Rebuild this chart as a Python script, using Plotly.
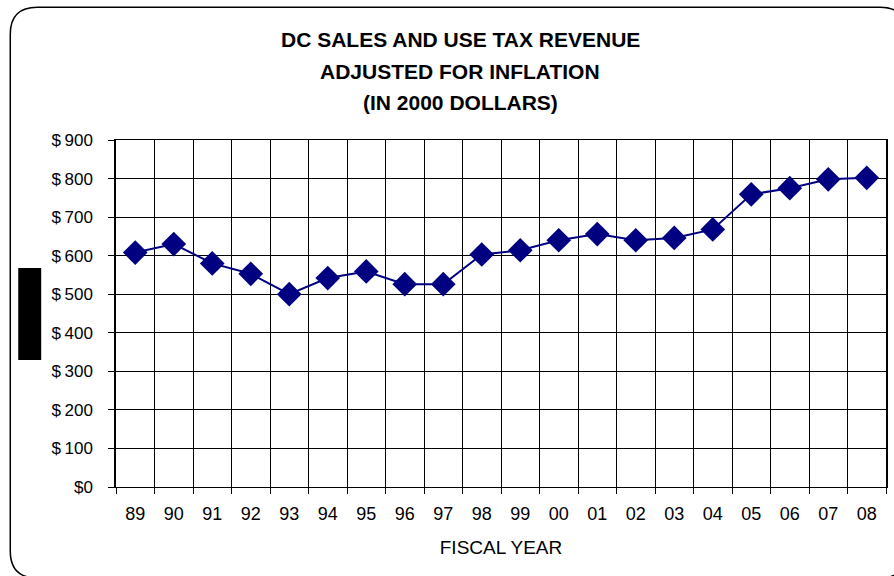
import plotly.graph_objects as go

# ---- data ----
years = ["89", "90", "91", "92", "93", "94", "95", "96", "97", "98",
         "99", "00", "01", "02", "03", "04", "05", "06", "07", "08"]
revenue = [608, 630, 580, 553, 500, 542, 559, 526, 526, 603,
           614, 640, 656, 640, 646, 668, 759, 775, 798, 802]
y_ticks = [0, 100, 200, 300, 400, 500, 600, 700, 800, 900]
y_tick_labels = ["$\u2009" + str(v) if v else "$0" for v in y_ticks]
title_lines = ["DC SALES AND USE TAX REVENUE",
               "ADJUSTED FOR INFLATION",
               "(IN 2000 DOLLARS)"]
x_title = "FISCAL YEAR"

# ---- layout geometry (pixels) ----
W, H = 894, 576
ML, MR, MT, MB = 116, 6, 140, 89
PW, PH = W - ML - MR, H - MT - MB


def px(x):
    return (x - ML) / PW


def py(y):
    return (MT + PH - y) / PH


FONT = "Liberation Sans, Arial, sans-serif"
NAVY = "#000080"

fig = go.Figure()
fig.add_trace(go.Scatter(
    x=years, y=revenue, mode="lines+markers",
    line=dict(color=NAVY, width=2),
    marker=dict(symbol="diamond", size=19, color=NAVY),
    showlegend=False, hoverinfo="x+y",
))

# rounded outer border
x0, x1, y0, y1, r = 10, 909, 7.3, 578, 27
path = (
    f"M {px(x0 + r)},{py(y0)} L {px(x1 - r)},{py(y0)} "
    f"Q {px(x1)},{py(y0)} {px(x1)},{py(y0 + r)} "
    f"L {px(x1)},{py(y1 - r)} Q {px(x1)},{py(y1)} {px(x1 - r)},{py(y1)} "
    f"L {px(x0 + r)},{py(y1)} Q {px(x0)},{py(y1)} {px(x0)},{py(y1 - r)} "
    f"L {px(x0)},{py(y0 + r)} Q {px(x0)},{py(y0)} {px(x0 + r)},{py(y0)} Z"
)
shapes = [
    dict(type="path", xref="paper", yref="paper", path=path,
         line=dict(color="black", width=1.5), layer="below"),
    dict(type="rect", xref="paper", yref="paper",
         x0=px(18), x1=px(41), y0=py(360), y1=py(268),
         fillcolor="black", line=dict(width=0)),
]

annotations = []
for i, (txt, yc) in enumerate(zip(title_lines, [39, 71, 103])):
    annotations.append(dict(
        text=f"<b>{txt}</b>", xref="paper", yref="paper",
        x=px(461), y=py(yc), xanchor="center", yanchor="middle",
        showarrow=False, font=dict(family=FONT, size=21, color="black"),
    ))

fig.update_layout(
    width=W, height=H,
    margin=dict(l=ML, r=MR, t=MT, b=MB),
    paper_bgcolor="white", plot_bgcolor="white",
    font=dict(family=FONT, color="black"),
    shapes=shapes, annotations=annotations,
    xaxis=dict(
        type="category", tickson="boundaries",
        ticks="outside", ticklen=6, tickcolor="black", tickwidth=1,
        showgrid=True, gridcolor="black", gridwidth=1,
        showline=True, linecolor="black", linewidth=1, mirror=True,
        tickfont=dict(size=18), ticklabelstandoff=10,
        title=dict(text=x_title, font=dict(size=19), standoff=18),
        range=[-0.5, len(years) - 0.5], zeroline=False,
    ),
    yaxis=dict(
        range=[0, 900], tickvals=y_ticks, ticktext=y_tick_labels,
        ticks="outside", ticklen=6, tickcolor="black", tickwidth=1,
        showgrid=True, gridcolor="black", gridwidth=1,
        showline=True, linecolor="black", linewidth=1.5, mirror=True,
        tickfont=dict(size=17), ticklabelstandoff=12, zeroline=False,
    ),
)

fig.write_html("out.html")
